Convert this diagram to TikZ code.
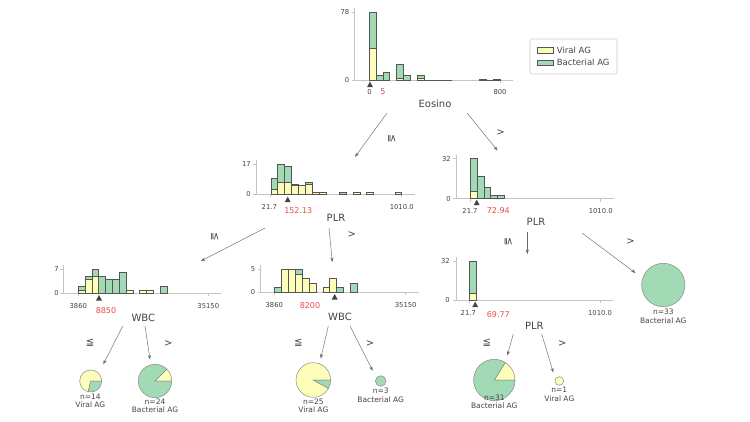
\documentclass[tikz,border=0pt]{standalone}
\usepackage{fontspec}
\setmainfont{DejaVu Sans}
\usetikzlibrary{arrows.meta}
\definecolor{viral}{HTML}{FEFEBB}
\definecolor{bact}{HTML}{A1DAB4}
\definecolor{txt}{HTML}{444443}
\definecolor{axc}{HTML}{C4C4C4}
\definecolor{edgec}{HTML}{555555}
\definecolor{redc}{HTML}{EE4B4B}
\definecolor{arr}{HTML}{6A6A6A}
\definecolor{pieedge}{HTML}{8A8A8A}
\definecolor{legb}{HTML}{CCCCCC}
\tikzset{
  ticklab/.style={font=\fontsize{6.8}{8}\selectfont, text=txt, inner sep=0pt},
  yticklab/.style={ticklab, anchor=east},
  splitlab/.style={font=\fontsize{8}{9}\selectfont, text=redc, inner sep=0pt},
  featlab/.style={font=\fontsize{10}{12}\selectfont, text=txt, inner sep=0pt},
  leaflab/.style={font=\fontsize{7.5}{8.5}\selectfont, text=txt, inner sep=0pt},
  elab/.style={font=\fontsize{10}{12}\selectfont, text=txt, inner sep=0pt},
  leglab/.style={font=\fontsize{8.5}{10}\selectfont, text=txt, inner sep=0pt, anchor=west},
  conn/.style={draw=arr, line width=0.45pt, -{Stealth[length=4.5pt,width=3.2pt]}},
  axl/.style={draw=axc, line width=0.55pt},
  barE/.style={draw=edgec, line width=0.4pt},
  pieE/.style={draw=pieedge, line width=0.5pt},
  trimark/.style={fill=txt}
}
% bar: x, w, base, scale, total, yellow
\newcommand\hb[6]{%
  \ifnum#6>0 \filldraw[fill=viral,barE] (#1,#3) rectangle ({#1+#2},{#3-#4*#6});\fi
  \ifnum#5>#6 \filldraw[fill=bact,barE] ({#1},{#3-#4*#6}) rectangle ({#1+#2},{#3-#4*#5});\fi}
% axes: yaxis x, base y, top y, tick1 x, tick2 x
\newcommand\haxes[5]{%
  \draw[axl] ({#1},{#3-4}) -- (#1,#2) -- ({#5+13},#2);
  \draw[axl] ({#1-3},#2) -- (#1,#2);
  \draw[axl] ({#1-3},#3) -- (#1,#3);
  \draw[axl] (#4,#2) -- (#4,{#2+3});
  \draw[axl] (#5,#2) -- (#5,{#2+3});}
% split triangle: x, apex y
\newcommand\trimk[2]{\fill[trimark] (#1,#2) -- ++(3,5.5) -- ++(-6,0) -- cycle;}
% pie: cx, cy, r, yellow angle (visual ccw from east)
\newcommand\piechart[4]{%
  \filldraw[fill=viral,pieE] (#1,#2) -- ++(0:#3) arc[start angle=0,end angle={-#4},radius=#3] -- cycle;
  \filldraw[fill=bact,pieE] (#1,#2) -- ++({-#4}:#3) arc[start angle={-#4},end angle=-360,radius=#3] -- cycle;}
\begin{document}
\begin{tikzpicture}[x=1pt,y=-1pt]
\path[use as bounding box, fill=white] (0,0) rectangle (750,422);

% ================= root: Eosino =================
\haxes{354.5}{80}{12}{369}{500}
\def\w{6.895}
\hb{369}{\w}{80}{0.8718}{78}{36}
\hb{375.9}{\w}{80}{0.8718}{6}{0}
\hb{382.8}{\w}{80}{0.8718}{9}{0}
\hb{396.6}{\w}{80}{0.8718}{18}{2}
\hb{403.5}{\w}{80}{0.8718}{6}{0}
\hb{417.3}{\w}{80}{0.8718}{6}{2}
\hb{479.1}{\w}{80}{0.8718}{1}{0}
\hb{493.1}{\w}{80}{0.8718}{1}{0}
\draw[barE] (424.2,80) -- (451.8,80);
\draw[barE] (486.0,80) -- (493.1,80);
\node[yticklab] (r78) at (349.5,12) {78};
\node[yticklab] (r0y) at (349.5,80) {0};
\node[ticklab] (r0) at (369.5,92) {0};
\node[ticklab] (r800) at (500,92) {800};
\trimk{370}{81.7}
\node[splitlab] (rsplit) at (383,91.7) {5};
\node[featlab] (root) at (435,104) {Eosino};

% legend
\draw[legb, line width=0.6pt, fill=white, rounded corners=2pt] (530,39) rectangle (617,74);
\filldraw[fill=viral,barE] (536.7,47.7) rectangle (553.3,53.3);
\filldraw[fill=bact,barE] (536.7,60) rectangle (553.3,65.7);
\node[leglab] (lgv) at (556.7,50.7) {Viral AG};
\node[leglab] (lgb) at (556.7,62.7) {Bacterial AG};

% ================= left child: PLR =================
\haxes{256}{194.3}{164.3}{270.7}{401.7}
\def\s{1.765}
\hb{270.7}{\w}{194.3}{\s}{9}{3}
\hb{277.6}{\w}{194.3}{\s}{17}{7}
\hb{284.5}{\w}{194.3}{\s}{16}{7}
\hb{291.4}{\w}{194.3}{\s}{6}{5}
\hb{298.3}{\w}{194.3}{\s}{5}{5}
\hb{305.2}{\w}{194.3}{\s}{7}{6}
\hb{312.1}{\w}{194.3}{\s}{1}{1}
\hb{319.0}{\w}{194.3}{\s}{1}{1}
\hb{339.4}{\w}{194.3}{\s}{1}{0}
\hb{353.0}{\w}{194.3}{\s}{1}{1}
\hb{366.6}{\w}{194.3}{\s}{1}{1}
\hb{394.8}{\w}{194.3}{\s}{1}{1}
\node[yticklab] (l17) at (251,164.3) {17};
\node[yticklab] (l0y) at (251,194.3) {0};
\node[ticklab] (lmin) at (269.3,207.3) {21.7};
\node[ticklab] (lmax) at (401.7,207.3) {1010.0};
\trimk{287.7}{196.7}
\node[splitlab] (lsplit) at (298.3,211) {152.13};
\node[featlab] (plrL) at (336,218) {PLR};

% ================= right child: PLR =================
\haxes{456}{198.7}{158.7}{470}{600.7}
\hb{470}{6.88}{198.7}{1.25}{32}{6}
\hb{476.88}{6.88}{198.7}{1.25}{18}{0}
\hb{483.76}{6.88}{198.7}{1.25}{9}{0}
\hb{490.64}{6.88}{198.7}{1.25}{3}{0}
\hb{497.52}{6.88}{198.7}{1.25}{3}{0}
\node[yticklab] (r32) at (451,158.7) {32};
\node[yticklab] (r0b) at (451,198.7) {0};
\node[ticklab] (rmin) at (470,210.7) {21.7};
\node[ticklab] (rmax) at (600.7,210.7) {1010.0};
\trimk{476.7}{199.7}
\node[splitlab] (rsplit2) at (498.3,210.9) {72.94};
\node[featlab] (plrR) at (536,222.3) {PLR};

% ================= left-left: WBC =================
\haxes{63.3}{293.3}{269}{78}{208.3}
\def\ws{6.85}
\def\sw{3.47}
\hb{78.0}{\ws}{293.3}{\sw}{2}{1}
\hb{84.85}{\ws}{293.3}{\sw}{5}{4}
\hb{91.7}{\ws}{293.3}{\sw}{7}{5}
\hb{98.55}{\ws}{293.3}{\sw}{5}{0}
\hb{105.4}{\ws}{293.3}{\sw}{4}{0}
\hb{112.25}{\ws}{293.3}{\sw}{4}{0}
\hb{119.1}{\ws}{293.3}{\sw}{6}{0}
\hb{125.95}{\ws}{293.3}{\sw}{1}{1}
\hb{139.65}{\ws}{293.3}{\sw}{1}{1}
\hb{146.5}{\ws}{293.3}{\sw}{1}{1}
\hb{160.2}{\ws}{293.3}{\sw}{2}{0}
\node[yticklab] (w7) at (58.8,269) {7};
\node[yticklab] (w0) at (58.8,293.3) {0};
\node[ticklab] (wmin) at (78.3,306) {3860};
\node[ticklab] (wmax) at (208.3,306) {35150};
\trimk{99}{295}
\node[splitlab] (wsplit) at (106,310.3) {8850};
\node[featlab] (wbcL) at (143.3,318) {WBC};

% ================= left-middle: WBC =================
\haxes{260.7}{291.8}{269.4}{274.3}{405.7}
\def\wm{6.915}
\def\sm{4.48}
\hb{274.3}{\wm}{291.8}{\sm}{1}{0}
\hb{281.2}{\wm}{291.8}{\sm}{5}{5}
\hb{288.1}{\wm}{291.8}{\sm}{5}{5}
\hb{295.0}{\wm}{291.8}{\sm}{5}{4}
\hb{301.95}{\wm}{291.8}{\sm}{3}{3}
\hb{308.9}{\wm}{291.8}{\sm}{2}{2}
\hb{322.7}{\wm}{291.8}{\sm}{1}{1}
\hb{329.6}{\wm}{291.8}{\sm}{3}{3}
\hb{336.5}{\wm}{291.8}{\sm}{1}{0}
\hb{350.4}{\wm}{291.8}{\sm}{2}{0}
\node[yticklab] (m5) at (255.5,269.4) {5};
\node[yticklab] (m0) at (255.5,291.8) {0};
\node[ticklab] (mmin) at (274.3,305) {3860};
\node[ticklab] (mmax) at (405.7,305) {35150};
\trimk{334.7}{294}
\node[splitlab] (msplit) at (310,305.7) {8200};
\node[featlab] (wbcM) at (340,316.7) {WBC};

% ================= right-left: PLR =================
\haxes{456}{300.3}{261.3}{469}{600}
\hb{469}{6.9}{300.3}{1.22}{32}{6}
\node[yticklab] (p32) at (450,261.3) {32};
\node[yticklab] (p0) at (450,300.3) {0};
\node[ticklab] (pmin) at (468.3,313.3) {21.7};
\node[ticklab] (pmax) at (600,313.3) {1010.0};
\trimk{475.2}{301.7}
\node[splitlab] (psplit) at (498.3,314.3) {69.77};
\node[featlab] (plrRL) at (534.3,325.7) {PLR};

% ================= leaves =================
\piechart{90.7}{381}{11}{257}
\node[leaflab] (n14a) at (90.3,396.7) {n=14};
\node[leaflab] (n14b) at (90.3,405) {Viral AG};

\piechart{155}{381}{16.7}{45}
\node[leaflab] (n24a) at (155,401.7) {n=24};
\node[leaflab] (n24b) at (155,410) {Bacterial AG};

\piechart{313.3}{380}{17.3}{331}
\node[leaflab] (n25a) at (313.3,401.7) {n=25};
\node[leaflab] (n25b) at (313.3,410) {Viral AG};

\filldraw[fill=bact,pieE] (380.7,381) circle[radius=5.3];
\node[leaflab] (n3a) at (380.7,390.7) {n=3};
\node[leaflab] (n3b) at (380.7,399.3) {Bacterial AG};

\piechart{494.3}{380}{20.7}{58}
\node[leaflab] (n31a) at (494.3,397.3) {n=31};
\node[leaflab] (n31b) at (494.3,406) {Bacterial AG};

\filldraw[fill=viral,pieE] (559.3,381) circle[radius=4.3];
\node[leaflab] (n1a) at (559.3,390) {n=1};
\node[leaflab] (n1b) at (559.3,398.3) {Viral AG};

\filldraw[fill=bact,pieE] (663.3,285) circle[radius=21.7];
\node[leaflab] (n33a) at (663.3,311.7) {n=33};
\node[leaflab] (n33b) at (663.3,320.7) {Bacterial AG};

% ================= connectors =================
\coordinate (c1s) at (387,113);   \coordinate (c1e) at (355,157);
\coordinate (c2s) at (467,113);   \coordinate (c2e) at (497.5,150.5);
\coordinate (c3s) at (265,228);   \coordinate (c3e) at (201,261);
\coordinate (c4s) at (329,228);   \coordinate (c4e) at (332.3,262);
\coordinate (c5s) at (527.3,232); \coordinate (c5e) at (527.3,254);
\coordinate (c6s) at (582,233);   \coordinate (c6e) at (635.5,273);
\coordinate (c7s) at (122.7,326); \coordinate (c7e) at (103.3,364.3);
\coordinate (c8s) at (145,326);   \coordinate (c8e) at (150,359.5);
\coordinate (c9s) at (328.3,326); \coordinate (c9e) at (320.7,358.5);
\coordinate (c10s) at (350,326);  \coordinate (c10e) at (372.7,370.7);
\coordinate (c11s) at (513.3,334);\coordinate (c11e) at (507.3,355.5);
\coordinate (c12s) at (541.7,334);\coordinate (c12e) at (553.3,372.5);
\foreach \i in {1,...,12}{\draw[conn] (c\i s) -- (c\i e);}

\node[elab,rotate=-90] (e1) at (392,139) {≦};
\node[elab] (e2) at (500.5,132.5) {>};
\node[elab,rotate=-90] (e3) at (215,237) {≦};
\node[elab] (e4) at (351.7,235) {>};
\node[elab,rotate=-90] (e5) at (508.3,241.7) {≦};
\node[elab] (e6) at (630.5,241.5) {>};
\node[elab] (e7) at (90,342.7) {≦};
\node[elab] (e8) at (168.3,343.3) {>};
\node[elab] (e9) at (298.3,342.7) {≦};
\node[elab] (e10) at (370,344) {>};
\node[elab] (e11) at (486.7,342.7) {≦};
\node[elab] (e12) at (562.3,344) {>};
\end{tikzpicture}
\end{document}
